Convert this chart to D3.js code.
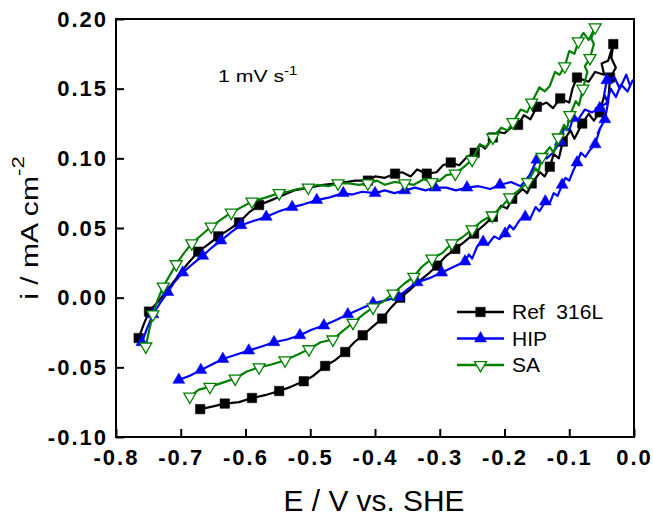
<!DOCTYPE html>
<html>
<head>
<meta charset="utf-8">
<script src="https://cdn.jsdelivr.net/npm/d3@7"></script>
<style>
  html, body { margin: 0; padding: 0; background: #fff; }
  svg { display: block; font-family: "Liberation Sans", Arial, Helvetica, sans-serif; }
</style>
</head>
<body>
<svg id="chart"></svg>
<script>
// legend names
const seriesNames = ["Ref  316L", "HIP", "SA"];

// Ref 316L: E (V vs. SHE), i (mA cm-2), one loop
const refLine = [
  [-0.670,-0.080],[-0.650,-0.078],[-0.632,-0.076],[-0.610,-0.075],[-0.590,-0.072],[-0.570,-0.070],
  [-0.548,-0.067],[-0.530,-0.064],[-0.510,-0.060],[-0.495,-0.056],[-0.477,-0.049],[-0.462,-0.045],
  [-0.446,-0.039],[-0.432,-0.032],[-0.419,-0.027],[-0.404,-0.021],[-0.389,-0.015],[-0.375,-0.007],
  [-0.361,0.000],[-0.345,0.006],[-0.334,0.011],[-0.318,0.017],[-0.304,0.023],[-0.290,0.030],
  [-0.276,0.035],[-0.262,0.040],[-0.247,0.046],[-0.232,0.052],[-0.218,0.058],[-0.205,0.066],
  [-0.196,0.064],[-0.188,0.071],[-0.172,0.078],[-0.165,0.075],[-0.158,0.082],[-0.145,0.090],
  [-0.138,0.087],[-0.130,0.094],[-0.124,0.103],[-0.116,0.100],[-0.110,0.112],[-0.098,0.120],
  [-0.092,0.114],[-0.080,0.125],[-0.070,0.132],[-0.062,0.127],[-0.053,0.133],[-0.046,0.145],
  [-0.040,0.140],[-0.037,0.158],[-0.028,0.165],[-0.035,0.172],[-0.032,0.182],
  [-0.040,0.170],[-0.050,0.168],[-0.046,0.160],[-0.060,0.162],[-0.070,0.155],[-0.088,0.158],
  [-0.095,0.150],[-0.100,0.140],[-0.114,0.143],[-0.125,0.136],[-0.135,0.140],[-0.150,0.137],
  [-0.160,0.128],[-0.170,0.131],[-0.179,0.124],[-0.190,0.122],[-0.200,0.118],[-0.210,0.119],
  [-0.218,0.115],[-0.230,0.107],[-0.238,0.110],[-0.246,0.104],[-0.258,0.101],[-0.270,0.095],
  [-0.283,0.097],[-0.295,0.095],[-0.305,0.090],[-0.320,0.089],[-0.335,0.092],[-0.345,0.087],
  [-0.358,0.090],[-0.369,0.089],[-0.385,0.086],[-0.400,0.087],[-0.411,0.084],[-0.430,0.084],
  [-0.445,0.083],[-0.457,0.082],[-0.480,0.081],[-0.502,0.079],[-0.525,0.077],[-0.545,0.073],
  [-0.560,0.070],[-0.579,0.0665],[-0.595,0.061],[-0.610,0.054],[-0.625,0.049],[-0.642,0.044],
  [-0.658,0.038],[-0.673,0.033],[-0.690,0.024],[-0.705,0.015],[-0.720,0.006],[-0.735,-0.003],
  [-0.749,-0.010],[-0.757,-0.019],[-0.765,-0.029]
];
const refMarks = [
  [-0.670,-0.080],[-0.632,-0.076],[-0.590,-0.072],[-0.548,-0.067],[-0.510,-0.060],[-0.477,-0.049],
  [-0.446,-0.039],[-0.419,-0.027],[-0.389,-0.015],[-0.361,0.000],[-0.304,0.023],[-0.276,0.035],
  [-0.247,0.046],[-0.218,0.058],[-0.188,0.071],[-0.158,0.082],[-0.130,0.094],[-0.110,0.112],
  [-0.080,0.125],[-0.053,0.133],[-0.037,0.158],[-0.032,0.182],
  [-0.088,0.158],[-0.114,0.143],[-0.150,0.137],[-0.179,0.124],[-0.218,0.115],[-0.246,0.104],
  [-0.283,0.097],[-0.320,0.089],[-0.369,0.089],[-0.411,0.084],[-0.579,0.0665],[-0.610,0.054],
  [-0.642,0.044],[-0.673,0.033],[-0.749,-0.010],[-0.765,-0.029]
];

// HIP
const hipLine = [
  [-0.703,-0.059],[-0.686,-0.056],[-0.669,-0.052],[-0.652,-0.048],[-0.635,-0.044],[-0.615,-0.041],
  [-0.595,-0.038],[-0.575,-0.035],[-0.556,-0.032],[-0.536,-0.030],[-0.516,-0.027],[-0.498,-0.023],
  [-0.479,-0.020],[-0.460,-0.016],[-0.442,-0.012],[-0.422,-0.008],[-0.403,-0.004],[-0.384,-0.002],
  [-0.364,0.0005],[-0.350,0.006],[-0.335,0.011],[-0.316,0.014],[-0.297,0.018],[-0.279,0.022],
  [-0.261,0.026],[-0.255,0.031],[-0.250,0.028],[-0.242,0.037],[-0.233,0.040],[-0.226,0.038],
  [-0.216,0.044],[-0.208,0.042],[-0.199,0.046],[-0.192,0.052],[-0.186,0.049],[-0.176,0.056],
  [-0.168,0.058],[-0.160,0.057],[-0.152,0.065],[-0.146,0.062],[-0.137,0.069],[-0.130,0.068],
  [-0.124,0.075],[-0.118,0.073],[-0.111,0.081],[-0.106,0.086],[-0.100,0.084],[-0.094,0.091],
  [-0.088,0.097],[-0.082,0.104],[-0.075,0.101],[-0.068,0.106],[-0.060,0.110],[-0.052,0.122],
  [-0.056,0.118],[-0.045,0.128],[-0.040,0.140],[-0.046,0.146],[-0.042,0.156],[-0.030,0.158],
  [-0.022,0.150],[-0.012,0.160],[-0.006,0.152],[-0.002,0.156],
  [-0.010,0.148],[-0.020,0.153],[-0.028,0.144],[-0.036,0.150],[-0.042,0.140],[-0.053,0.136],
  [-0.065,0.133],[-0.076,0.135],[-0.086,0.128],[-0.094,0.129],[-0.100,0.120],[-0.107,0.123],
  [-0.114,0.112],[-0.125,0.104],[-0.135,0.100],[-0.142,0.101],[-0.150,0.099],[-0.161,0.088],
  [-0.175,0.080],[-0.190,0.083],[-0.207,0.081],[-0.222,0.078],[-0.240,0.080],[-0.258,0.079],
  [-0.275,0.077],[-0.290,0.079],[-0.307,0.079],[-0.322,0.077],[-0.338,0.079],[-0.354,0.077],
  [-0.370,0.075],[-0.385,0.077],[-0.400,0.075],[-0.420,0.076],[-0.435,0.074],[-0.449,0.075],
  [-0.470,0.072],[-0.490,0.070],[-0.510,0.067],[-0.528,0.065],[-0.548,0.062],[-0.568,0.058],
  [-0.588,0.055],[-0.607,0.052],[-0.622,0.047],[-0.638,0.041],[-0.652,0.036],[-0.666,0.030],
  [-0.682,0.024],[-0.697,0.018],[-0.710,0.011],[-0.720,0.004],[-0.732,-0.004],[-0.743,-0.012],
  [-0.752,-0.022],[-0.760,-0.032]
];
const hipMarks = [
  [-0.703,-0.059],[-0.669,-0.052],[-0.635,-0.044],[-0.595,-0.038],[-0.556,-0.032],[-0.516,-0.027],
  [-0.479,-0.020],[-0.442,-0.012],[-0.403,-0.004],[-0.364,0.0005],[-0.335,0.011],[-0.297,0.018],
  [-0.261,0.026],[-0.233,0.040],[-0.199,0.046],[-0.168,0.058],[-0.137,0.069],[-0.111,0.081],
  [-0.088,0.097],[-0.060,0.110],[-0.045,0.128],
  [-0.042,0.156],[-0.053,0.136],[-0.094,0.129],[-0.114,0.112],[-0.150,0.099],[-0.207,0.081],
  [-0.258,0.079],[-0.307,0.079],[-0.354,0.077],[-0.400,0.075],[-0.449,0.075],[-0.490,0.070],
  [-0.528,0.065],[-0.568,0.058],[-0.607,0.052],[-0.638,0.041],[-0.666,0.030],[-0.697,0.018],
  [-0.720,0.004],[-0.743,-0.012],[-0.760,-0.032]
];

// SA
const saLine = [
  [-0.686,-0.071],[-0.672,-0.066],[-0.655,-0.064],[-0.635,-0.061],[-0.616,-0.058],[-0.598,-0.053],
  [-0.579,-0.050],[-0.560,-0.048],[-0.539,-0.045],[-0.520,-0.041],[-0.502,-0.037],[-0.484,-0.032],
  [-0.465,-0.030],[-0.450,-0.024],[-0.434,-0.018],[-0.418,-0.012],[-0.403,-0.007],[-0.388,-0.003],
  [-0.372,0.003],[-0.355,0.010],[-0.340,0.015],[-0.328,0.022],[-0.312,0.028],[-0.296,0.032],
  [-0.281,0.039],[-0.266,0.043],[-0.250,0.049],[-0.235,0.055],[-0.219,0.059],[-0.205,0.065],
  [-0.192,0.072],[-0.178,0.077],[-0.164,0.083],[-0.152,0.093],[-0.148,0.090],[-0.142,0.101],
  [-0.130,0.108],[-0.124,0.104],[-0.117,0.115],[-0.108,0.124],[-0.104,0.120],[-0.099,0.131],
  [-0.090,0.141],[-0.085,0.138],[-0.079,0.150],[-0.072,0.162],[-0.076,0.166],[-0.068,0.172],
  [-0.062,0.182],[-0.066,0.186],[-0.060,0.194],
  [-0.070,0.185],[-0.078,0.190],[-0.086,0.184],[-0.092,0.175],[-0.100,0.177],[-0.107,0.166],
  [-0.115,0.160],[-0.122,0.162],[-0.130,0.152],[-0.138,0.148],[-0.146,0.151],[-0.158,0.140],
  [-0.165,0.133],[-0.175,0.135],[-0.187,0.126],[-0.195,0.120],[-0.205,0.122],[-0.218,0.115],
  [-0.228,0.108],[-0.238,0.110],[-0.250,0.099],[-0.262,0.094],[-0.276,0.089],[-0.290,0.088],
  [-0.300,0.084],[-0.312,0.083],[-0.325,0.085],[-0.340,0.081],[-0.354,0.082],[-0.370,0.083],
  [-0.385,0.081],[-0.397,0.084],[-0.411,0.082],[-0.425,0.081],[-0.440,0.082],[-0.457,0.082],
  [-0.472,0.080],[-0.488,0.081],[-0.503,0.079],[-0.520,0.078],[-0.535,0.076],[-0.548,0.075],
  [-0.568,0.072],[-0.590,0.069],[-0.606,0.065],[-0.622,0.061],[-0.638,0.056],[-0.653,0.051],
  [-0.668,0.045],[-0.683,0.039],[-0.695,0.032],[-0.707,0.024],[-0.717,0.016],[-0.727,0.008],
  [-0.736,-0.002],[-0.743,-0.012],[-0.749,-0.024],[-0.754,-0.035]
];
const saMarks = [
  [-0.686,-0.071],[-0.655,-0.064],[-0.616,-0.058],[-0.579,-0.050],[-0.539,-0.045],[-0.502,-0.037],
  [-0.465,-0.030],[-0.434,-0.018],[-0.403,-0.007],[-0.372,0.003],[-0.340,0.015],[-0.312,0.028],
  [-0.281,0.039],[-0.250,0.049],[-0.219,0.059],[-0.192,0.072],[-0.164,0.083],[-0.142,0.101],
  [-0.117,0.115],[-0.099,0.131],[-0.079,0.150],[-0.068,0.172],[-0.060,0.194],
  [-0.086,0.184],[-0.107,0.166],[-0.158,0.140],[-0.187,0.126],[-0.218,0.115],[-0.250,0.099],
  [-0.276,0.089],[-0.312,0.083],[-0.354,0.082],[-0.411,0.082],[-0.457,0.082],[-0.503,0.079],
  [-0.548,0.075],[-0.590,0.069],[-0.622,0.061],[-0.653,0.051],[-0.683,0.039],[-0.707,0.024],
  [-0.727,0.008],[-0.743,-0.012],[-0.754,-0.035]
];

const xTicks = [-0.8, -0.7, -0.6, -0.5, -0.4, -0.3, -0.2, -0.1, 0.0];
const xTickLabels = ["-0.8", "-0.7", "-0.6", "-0.5", "-0.4", "-0.3", "-0.2", "-0.1", "0.0"];
const yTicks = [-0.10, -0.05, 0.00, 0.05, 0.10, 0.15, 0.20];
const yTickLabels = ["-0.10", "-0.05", "0.00", "0.05", "0.10", "0.15", "0.20"];

const W = 653, H = 517;
const margin = { top: 19, right: 19, bottom: 80, left: 116 };
const w = W - margin.left - margin.right;
const h = H - margin.top - margin.bottom;

const svg = d3.select("#chart").attr("width", W).attr("height", H);
const g = svg.append("g").attr("transform", `translate(${margin.left},${margin.top})`);

const x = d3.scaleLinear().domain([-0.8, 0]).range([0, w]);
const y = d3.scaleLinear().domain([-0.10, 0.20]).range([h, 0]);

// axes, ticks point inward
const xAxis = g.append("g")
  .attr("transform", `translate(0,${h})`)
  .call(d3.axisBottom(x).tickValues(xTicks).tickFormat((d, i) => xTickLabels[i])
    .tickSizeInner(-8).tickSizeOuter(0).tickPadding(12));
const yAxis = g.append("g")
  .call(d3.axisLeft(y).tickValues(yTicks).tickFormat((d, i) => yTickLabels[i])
    .tickSizeInner(-8).tickSizeOuter(0).tickPadding(8));

[xAxis, yAxis].forEach(a => {
  a.attr("font-family", null).attr("font-size", null);
  a.select(".domain").remove();
  a.selectAll("line").attr("stroke", "#000").attr("stroke-width", 2);
  a.selectAll("text")
    .attr("fill", "#000")
    .style("font-size", "22px")
    .style("font-weight", "bold")
    .style("letter-spacing", "2px");
});

const series = [
  { name: seriesNames[0], line: refLine, marks: refMarks, color: "#000000", type: "square" },
  { name: seriesNames[1], line: hipLine, marks: hipMarks, color: "#0000ff", type: "up" },
  { name: seriesNames[2], line: saLine, marks: saMarks, color: "#008000", type: "down" }
];

const lineGen = d3.line().x(d => x(d[0])).y(d => y(d[1]));
const squarePath = d3.symbol(d3.symbolSquare, 90)();
const triPath = d3.symbol(d3.symbolTriangle, 62)();

function drawMarker(sel, s) {
  return sel.append("path")
    .attr("d", s.type === "square" ? squarePath : triPath)
    .attr("fill", s.type === "down" ? "#fff" : s.color)
    .attr("stroke", s.color)
    .attr("stroke-width", s.type === "down" ? 1.3 : 0.5);
}

series.forEach(s => {
  const sg = g.append("g");
  sg.append("path")
    .datum(s.line)
    .attr("d", lineGen)
    .attr("fill", "none")
    .attr("stroke", s.color)
    .attr("stroke-width", 2.2)
    .attr("stroke-linejoin", "round");
  sg.selectAll(".m")
    .data(s.marks)
    .join("g")
    .attr("class", "m")
    .attr("transform", d => `translate(${x(d[0])},${y(d[1])})` + (s.type === "down" ? " rotate(180)" : ""))
    .each(function() { drawMarker(d3.select(this), s); });
});

// frame
g.append("rect")
  .attr("width", w).attr("height", h)
  .attr("fill", "none").attr("stroke", "#000").attr("stroke-width", 2);

// legend
const legend = svg.append("g").attr("transform", "translate(457,312)");
series.forEach((s, k) => {
  const row = legend.append("g").attr("transform", `translate(0,${k * 26.5})`);
  row.append("line").attr("x1", 0).attr("x2", 47)
    .attr("stroke", s.color).attr("stroke-width", 2.5);
  row.append("g")
    .attr("transform", "translate(23.5,0)" + (s.type === "down" ? " rotate(180)" : ""))
    .each(function() { drawMarker(d3.select(this), s); });
  row.append("text")
    .attr("x", 55).attr("y", 7)
    .style("font-size", "21px")
    .style("white-space", "pre")
    .text(s.name);
});

// annotation
const note = svg.append("text")
  .attr("transform", "translate(218,82) scale(1.25,1)")
  .style("font-size", "17px");
note.append("tspan").text("1 mV s");
note.append("tspan").attr("dy", -7).style("font-size", "12px").text("-1");

// axis titles
svg.append("text")
  .attr("transform", "translate(374,511) scale(1.03,1)")
  .style("text-anchor", "middle")
  .style("font-size", "29px")
  .text("E / V vs. SHE");

const yTitle = svg.append("text")
  .attr("transform", "translate(38,228) rotate(-90) scale(1.31,1)")
  .style("text-anchor", "middle")
  .style("font-size", "23px");
yTitle.append("tspan").text("i / mA cm");
yTitle.append("tspan").attr("dy", -14).style("font-size", "17px").text("-2");
</script>
</body>
</html>
